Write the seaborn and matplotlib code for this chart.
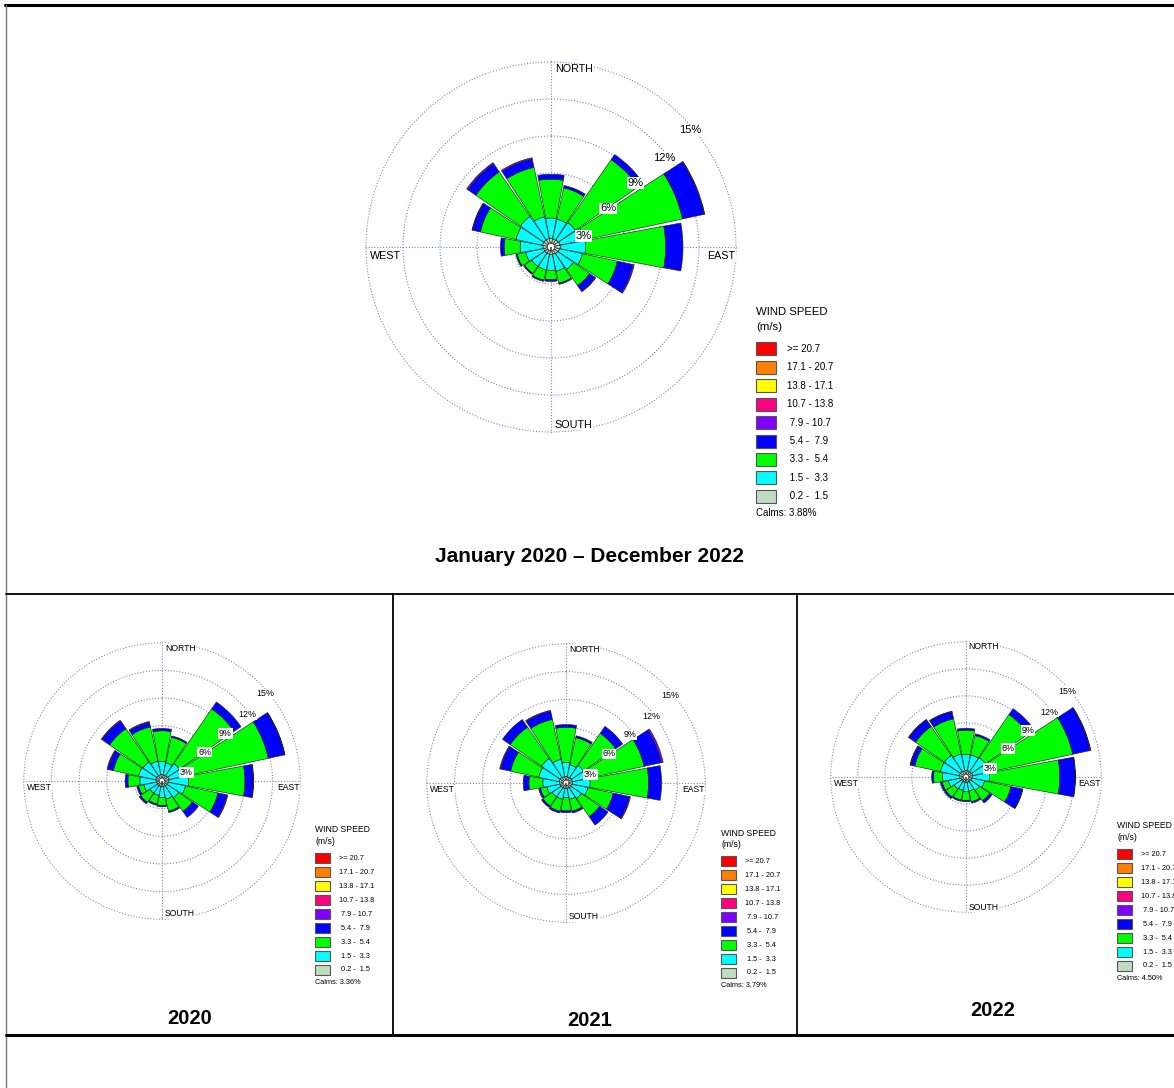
import numpy as np
import matplotlib
matplotlib.use("Agg")
import matplotlib.pyplot as plt
import seaborn as sns
from matplotlib.patches import Rectangle
from matplotlib.lines import Line2D

# bildens storlek i pixlar
W, H = 1174, 1088

# riktningar, medurs från norr
DIRECTIONS = ["N", "NNE", "NE", "ENE", "E", "ESE", "SE", "SSE",
              "S", "SSW", "SW", "WSW", "W", "WNW", "NW", "NNW"]

# vindhastighetsklasser (m/s) och färger, som i legenden
SPEED_CLASSES = [">= 20.7", "17.1 - 20.7", "13.8 - 17.1", "10.7 - 13.8",
                 " 7.9 - 10.7", " 5.4 -  7.9", " 3.3 -  5.4", " 1.5 -  3.3", " 0.2 -  1.5"]
CLASS_COLORS = ["#ff0000", "#ff8000", "#ffff00", "#ff0080",
                "#8000ff", "#0000ff", "#00ff00", "#00ffff", "#c0dcc0"]

# kumulativ frekvens (%) per riktning: 0.2-1.5, 1.5-3.3, 3.3-5.4, 5.4-7.9, 7.9-10.7
ALL_GRAY = [0.7, 0.65, 0.7, 0.75, 0.75, 0.7, 0.65, 0.6, 0.6, 0.6, 0.6, 0.6, 0.65, 0.7, 0.7, 0.7]
ALL_CYAN = [2.35, 2.3, 2.4, 2.8, 2.8, 2.6, 2.2, 2.0, 1.9, 1.9, 1.9, 2.1, 2.5, 2.9, 3.0, 2.5]
ALL_GREEN = [5.5, 4.9, 8.6, 10.9, 9.3, 5.5, 3.8, 3.0, 2.65, 2.75, 2.6, 2.8, 3.8, 5.85, 7.4, 6.6]
ALL_BLUE = [5.9, 5.1, 9.1, 12.7, 10.7, 6.8, 4.35, 3.1, 2.8, 2.85, 2.7, 2.9, 4.1, 6.5, 8.2, 7.3]
ALL_PURPLE = [5.9, 5.1, 9.1, 12.75, 10.7, 6.9, 4.4, 3.1, 2.8, 2.85, 2.7, 2.9, 4.1, 6.55, 8.3, 7.4]

Y2020_GRAY = [0.7, 0.65, 0.7, 0.75, 0.75, 0.7, 0.65, 0.6, 0.6, 0.6, 0.6, 0.6, 0.65, 0.7, 0.7, 0.7]
Y2020_CYAN = [2.1, 2.0, 2.3, 2.8, 2.9, 2.6, 2.2, 2.0, 1.8, 1.6, 1.6, 2.0, 2.4, 2.6, 2.5, 2.2]
Y2020_GREEN = [5.45, 4.85, 9.5, 11.8, 9.0, 6.2, 4.0, 3.35, 2.65, 2.55, 2.8, 2.6, 3.7, 5.4, 6.9, 6.0]
Y2020_BLUE = [5.7, 5.0, 10.4, 13.6, 9.9, 7.2, 4.8, 3.5, 2.8, 2.7, 3.0, 2.8, 4.0, 6.0, 7.9, 6.5]
Y2020_PURPLE = [5.7, 5.0, 10.4, 13.65, 9.95, 7.3, 4.8, 3.5, 2.8, 2.7, 3.0, 2.8, 4.0, 6.1, 8.0, 6.6]

Y2021_GRAY = [0.7, 0.65, 0.7, 0.7, 0.7, 0.7, 0.65, 0.6, 0.6, 0.6, 0.6, 0.65, 0.7, 0.75, 0.75, 0.7]
Y2021_CYAN = [2.2, 2.0, 2.3, 2.5, 2.6, 2.4, 2.0, 1.8, 1.6, 1.8, 1.8, 2.1, 2.5, 3.0, 3.2, 2.6]
Y2021_GREEN = [6.0, 5.0, 6.5, 8.6, 8.9, 5.2, 4.4, 3.1, 3.0, 3.1, 3.0, 2.8, 4.0, 6.1, 7.3, 7.0]
Y2021_BLUE = [6.3, 5.2, 7.4, 10.5, 10.3, 7.0, 5.5, 3.3, 3.2, 3.3, 3.2, 3.0, 4.6, 7.2, 8.3, 7.9]
Y2021_PURPLE = [6.3, 5.2, 7.4, 10.7, 10.3, 7.1, 5.5, 3.3, 3.2, 3.3, 3.2, 3.0, 4.6, 7.3, 8.3, 8.0]

Y2022_GRAY = [0.75, 0.7, 0.7, 0.75, 0.7, 0.65, 0.6, 0.6, 0.6, 0.55, 0.6, 0.6, 0.7, 0.75, 0.75, 0.7]
Y2022_CYAN = [2.5, 2.5, 2.6, 2.8, 2.6, 2.1, 1.8, 1.6, 1.6, 1.5, 1.6, 2.0, 2.6, 2.9, 2.9, 2.6]
Y2022_GREEN = [5.2, 4.7, 8.4, 12.1, 10.4, 5.1, 3.2, 2.8, 2.6, 2.6, 2.7, 2.7, 3.6, 5.8, 6.8, 6.6]
Y2022_BLUE = [5.4, 4.9, 9.2, 14.1, 12.1, 6.4, 3.5, 2.95, 2.75, 2.75, 2.9, 2.9, 3.8, 6.3, 7.7, 7.4]
Y2022_PURPLE = [5.4, 4.9, 9.2, 14.15, 12.15, 6.45, 3.5, 2.95, 2.75, 2.75, 2.9, 2.9, 3.8, 6.35, 7.75, 7.45]

CALMS = ["3.88%", "3.36%", "3.79%", "4.50%"]
TITLES = ["January 2020 \u2013 December 2022", "2020", "2021", "2022"]

RING_VALUES = [3, 6, 9, 12, 15]
RING_LABELS = ["3%", "6%", "9%", "12%", "15%"]

# färger för banden inifrån och ut
BAND_COLORS = ["#c0dcc0", "#00ffff", "#00ff00", "#0000ff", "#8000ff"]
HOLE = 0.3

sns.set_style("white")
plt.rcParams["font.family"] = ["Liberation Sans", "DejaVu Sans"]
plt.rcParams["text.color"] = "black"

fig = plt.figure(figsize=(W / 100, H / 100), dpi=100)


def draw_rose(cx, cy, R, bands, fs):
    ax = fig.add_axes([(cx - R) / W, 1 - (cy + R) / H, 2 * R / W, 2 * R / H],
                      projection="polar")
    ax.set_theta_zero_location("N")
    ax.set_theta_direction(-1)
    ax.set_facecolor("none")
    ax.spines["polar"].set_visible(False)
    ax.set_rgrids(RING_VALUES, labels=[""] * len(RING_VALUES))
    ax.set_thetagrids([0, 90, 180, 270], labels=[""] * 4)
    ax.grid(True, color="#8080cc", linestyle=(0, (1, 1.6)), linewidth=0.8)
    ax.set_ylim(0, 15.08)

    theta = np.deg2rad(np.arange(len(DIRECTIONS)) * 22.5)
    width = np.deg2rad(22.5) * 0.93
    bottom = np.full(len(DIRECTIONS), HOLE)
    for edge, color in zip(bands, BAND_COLORS):
        edge = np.array(edge)
        h = edge - bottom
        m = h > 0.01
        ax.bar(theta[m], h[m], width=width, bottom=bottom[m], color=color,
               edgecolor="#222222", linewidth=0.45, zorder=3)
        bottom = np.maximum(edge, bottom)
    # calms-cirkeln i mitten
    ax.bar(0, HOLE, width=2 * np.pi, bottom=0, color="white",
           edgecolor="#444444", linewidth=0.6, zorder=4)

    # procentetiketter längs NE-riktningen
    label_pos = [(71, 2.8), (56, 5.6), (53, 8.6), (52, 11.7), (50, 14.7)]
    for (ang, r), lab in zip(label_pos, RING_LABELS):
        ax.text(np.deg2rad(ang), r, lab, fontsize=fs, ha="center", va="center", zorder=5,
                bbox=dict(facecolor="white", edgecolor="none", pad=0.6))

    box = dict(facecolor="white", edgecolor="none", pad=0.5)
    ax.text(0.51, 0.978, "NORTH", transform=ax.transAxes, fontsize=fs * 0.97,
            ha="left", va="center", bbox=box)
    ax.text(0.51, 0.022, "SOUTH", transform=ax.transAxes, fontsize=fs * 0.97,
            ha="left", va="center", bbox=box)
    ax.text(0.013, 0.476, "WEST", transform=ax.transAxes, fontsize=fs * 0.97,
            ha="left", va="center", bbox=box)
    ax.text(0.995, 0.476, "EAST", transform=ax.transAxes, fontsize=fs * 0.97,
            ha="right", va="center", bbox=box)
    return ax


def draw_legend(x, y, s, calms):
    # x, y = vänsterkant och höjd för rubriken "WIND SPEED" (pixlar)
    fig.text(x / W, 1 - y / H, "WIND SPEED", fontsize=8.2 * s, ha="left", va="center")
    fig.text(x / W, 1 - (y + 15 * s) / H, "(m/s)", fontsize=8.2 * s, ha="left", va="center")
    for i, (lab, col) in enumerate(zip(SPEED_CLASSES, CLASS_COLORS)):
        yc = y + 37 * s + i * 18.4 * s
        fig.add_artist(Rectangle((x / W, 1 - (yc + 6.5 * s) / H), 20 * s / W, 13 * s / H,
                                 transform=fig.transFigure, facecolor=col,
                                 edgecolor="#555555", linewidth=0.8))
        fig.text((x + 31 * s) / W, 1 - yc / H, lab, fontsize=7 * s, ha="left", va="center")
    fig.text(x / W, 1 - (y + 201 * s) / H, "Calms: " + calms, fontsize=7 * s,
             ha="left", va="center")


# huvudrosen och tre årsrosor
draw_rose(551, 247, 186, [ALL_GRAY, ALL_CYAN, ALL_GREEN, ALL_BLUE, ALL_PURPLE], 8)
draw_rose(162, 781, 139, [Y2020_GRAY, Y2020_CYAN, Y2020_GREEN, Y2020_BLUE, Y2020_PURPLE], 6.4)
draw_rose(566, 783, 140, [Y2021_GRAY, Y2021_CYAN, Y2021_GREEN, Y2021_BLUE, Y2021_PURPLE], 6.4)
draw_rose(966, 777, 136, [Y2022_GRAY, Y2022_CYAN, Y2022_GREEN, Y2022_BLUE, Y2022_PURPLE], 6.4)

draw_legend(756, 312, 1.0, CALMS[0])
draw_legend(315, 830, 0.76, CALMS[1])
draw_legend(721, 833, 0.76, CALMS[2])
draw_legend(1117, 826, 0.76, CALMS[3])

# rubriker
fig.text(590 / W, 1 - 556 / H, TITLES[0], fontsize=15, fontweight="bold", ha="center", va="center")
fig.text(190 / W, 1 - 1018 / H, TITLES[1], fontsize=14.5, fontweight="bold", ha="center", va="center")
fig.text(590 / W, 1 - 1020 / H, TITLES[2], fontsize=14.5, fontweight="bold", ha="center", va="center")
fig.text(993 / W, 1 - 1010 / H, TITLES[3], fontsize=14.5, fontweight="bold", ha="center", va="center")


# tabellens ramlinjer
def hline(y, x0, x1, lw, col="black"):
    fig.add_artist(Line2D([x0 / W, x1 / W], [1 - y / H, 1 - y / H], color=col, linewidth=lw,
                          transform=fig.transFigure))


def vline(x, y0, y1, lw, col="black"):
    fig.add_artist(Line2D([x / W, x / W], [1 - y0 / H, 1 - y1 / H], color=col, linewidth=lw,
                          transform=fig.transFigure))


hline(5, 5, W, 2.2)
vline(6, 5, H, 1.0, "#777777")
hline(594, 6, W, 1.3)
vline(393, 594, 1035, 1.3)
vline(797, 594, 1035, 1.3)
hline(1035, 6, W, 2.2)

fig.savefig("out.png", dpi=100)
